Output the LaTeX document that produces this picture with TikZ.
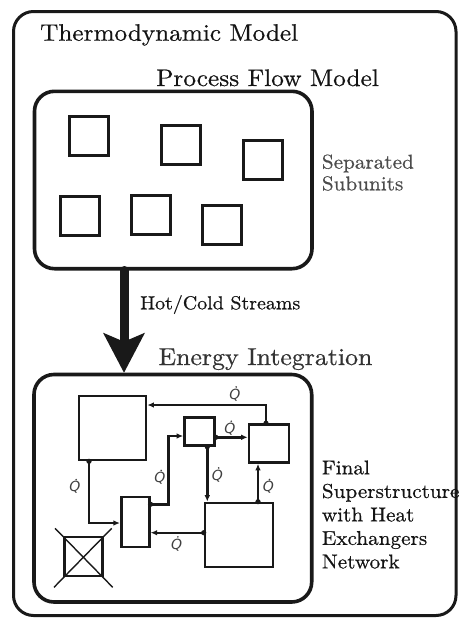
\documentclass[tikz,border=0pt]{standalone}
\usepackage{fontspec}
\setmainfont{lmroman10-regular.otf}[FakeStretch=1.06, FakeBold=0.6]
\newfontfamily\qfont{DejaVu Sans}[UprightFont=*, ItalicFont=* Oblique]
\usetikzlibrary{arrows.meta}
\begin{document}
\begin{tikzpicture}[x=1pt,y=-1pt,
  frame/.style={draw=black!90, line width=3pt, rounded corners=20pt, inner sep=0pt},
  group/.style={draw=black!90, line width=3.6pt, rounded corners=20pt, inner sep=0pt},
  unit/.style={draw=black!90, line width=2.8pt, inner sep=0pt, minimum width=39pt, minimum height=39pt},
  hx/.style={draw=black!90, line width=2.6pt, inner sep=0pt},
  conn/.style={draw=black!90, line width=2.4pt, -{Latex[length=6.5pt,width=5.5pt]}},
  title/.style={anchor=base west, inner sep=0pt, text=black!92},
  qlab/.style={inner sep=0pt, text=black!75, font=\qfont\itshape\fontsize{14}{16}\selectfont},
  dotm/.style={fill=black!90}
]
\useasboundingbox (0,0) rectangle (458,621);
\newcommand{\qlabel}[2]{\node[qlab] (#1) at (#2) {Q};
  \fill[black!75] ([xshift=1.2pt,yshift=1.8pt]#1.north) circle (0.9pt);}

% outer frame
\node[frame, minimum width=442.5pt, minimum height=604pt] (outer) at (234.75,313.5) {};
\node[title, font=\fontsize{23.8}{28}\selectfont] (t1) at (40,40.7) {Thermodynamic Model};

% process flow model
\node[title, font=\fontsize{23.9}{28}\selectfont] (t2) at (156,86) {Process Flow Model};
\node[group, minimum width=277.5pt, minimum height=177.4pt] (pf) at (173.25,180) {};
\node[unit] (s1) at (88.8,136.2) {};
\node[unit] (s2) at (181.2,145.3) {};
\node[unit] (s3) at (262.7,159.7) {};
\node[unit] (s4) at (80,215.8) {};
\node[unit] (s5) at (150.8,215.3) {};
\node[unit] (s6) at (222.2,225) {};
\node[title, text=black!70, font=\fontsize{20}{21.7}\selectfont, anchor=north west, align=left] (sep) at (321.7,154.3) {Separated\\Subunits};

% energy integration
\node[title, text=black!80, font=\fontsize{24.4}{28}\selectfont] (t3) at (158.3,365) {Energy Integration};
\node[group, minimum width=277.7pt, minimum height=227.5pt] (ei) at (172.85,488.25) {};

% big arrow
\coordinate (ax) at (124,0);
\draw[line width=9pt, line cap=round, draw=black!90, fill=black!90,
  -{Stealth[length=40pt, width=42pt, inset=9pt, line width=0pt]}] (pf.south -| ax) -- (ei.north -| ax);
\node[title, font=\fontsize{18.8}{22}\selectfont] (hc) at (140,309.3) {Hot/Cold Streams};

% network boxes
\node[hx, minimum width=67pt, minimum height=64pt] (A) at (112.5,428) {};
\node[hx, minimum width=30pt, minimum height=28pt] (B) at (199.5,431.5) {};
\node[hx, minimum width=40pt, minimum height=38pt] (C) at (269,443.5) {};
\node[hx, minimum width=28pt, minimum height=50pt] (D) at (135.25,522) {};
\node[hx, minimum width=68pt, minimum height=64pt] (E) at (239,535) {};
\node[hx, minimum width=38pt, minimum height=39pt] (F) at (83.3,556.5) {};
\draw[black!90, line width=1.4pt] (F.center) +(-28.3,-28.2) -- +(29.4,30.8);
\draw[black!90, line width=1.4pt] (F.center) +(28.4,-28.2) -- +(-29.3,30.8);

% connectors
\coordinate (c1) at (266,405);
\coordinate (c2) at (0,437.3);
\coordinate (c3) at (207.3,0);
\coordinate (c4) at (258,0);
\coordinate (c5a) at (0,504.3);
\coordinate (c5b) at (168.3,436);
\coordinate (c6) at (89,523);
\coordinate (c7) at (0,532.7);

\draw[conn] (C.north -| c1) |- (A.east |- c1);
\draw[conn] (B.east |- c2) -- (C.west |- c2);
\draw[conn] (B.south -| c3) -- (E.north -| c3);
\draw[conn] (E.north -| c4) -- (C.south -| c4);
\draw[conn] (D.east |- c5a) -| (c5b) -- (B.west |- c5b);
\draw[conn] (A.south -| c6) |- (D.west |- c6);
\draw[conn] (E.west |- c7) -- (D.east |- c7);

\fill[dotm] (C.north -| c1) circle (2.6pt);
\fill[dotm] (B.east |- c2) circle (2.6pt);
\fill[dotm] (B.south -| c3) circle (2.6pt);
\fill[dotm] (E.north -| c4) circle (2.6pt);
\fill[dotm] (D.east |- c5a) circle (2.6pt);
\fill[dotm] (A.south -| c6) circle (2.6pt);
\fill[dotm] (E.west |- c7) circle (2.6pt);

\qlabel{q1}{235,395}
\qlabel{q2}{230,429.3}
\qlabel{q3}{217.5,476}
\qlabel{q4}{268.3,487.7}
\qlabel{q5}{160,478.5}
\qlabel{q6}{75,487.7}
\qlabel{q7}{176.7,545}

\node[title, font=\fontsize{20}{23.5}\selectfont, anchor=north west, align=left] (fin) at (321.7,460.3) {Final\\Superstructure\\with Heat\\Exchangers\\Network};
\end{tikzpicture}
\end{document}
